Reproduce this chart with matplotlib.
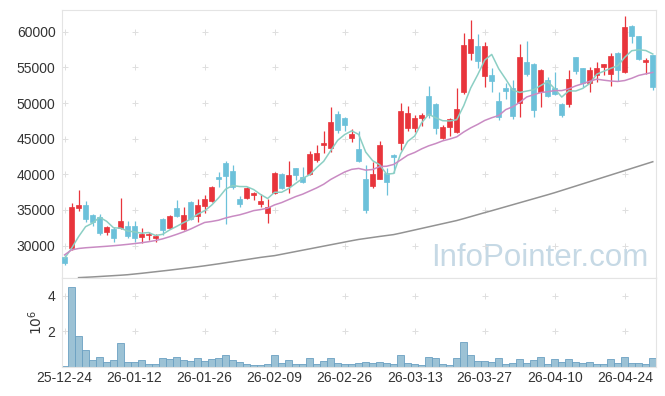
import matplotlib
matplotlib.use("Agg")
import matplotlib.pyplot as plt
import numpy as np

# daily candles, 2025-12-24 .. 2026-04-28 (index based x axis)
opens = [28360, 29620, 35330, 35700, 34300, 33970, 31920, 32380, 32520, 32760,
         32760, 31270, 31500, 31120, 33740, 32480, 35230, 32380, 36120, 34200,
         35600, 36260, 39630, 41590, 40470, 36540, 36730, 37100, 35840, 34530,
         37330, 40050, 38410, 40840, 39670, 40050, 42010, 44110, 43740, 48460,
         47940, 45140, 43550, 39350, 38360, 39350, 40140, 42710, 44440, 46540,
         46540, 47940, 50980, 49860, 45140, 46680, 45980, 51590, 56960, 57990,
         53780, 53930, 50280, 52060, 52060, 50050, 55750, 55470, 51590, 53220,
         52060, 49860, 49810, 56400, 54860, 52850, 53920, 55100, 54070, 57060,
         54400, 60790, 59390, 55750, 56730]
highs = [28690, 35930, 37800, 36260, 34390, 34390, 32760, 32660, 36680, 33410,
         33500, 32520, 31960, 31590, 33930, 34300, 36400, 35470, 36260, 36540,
         37100, 38410, 40280, 41870, 41310, 37010, 38270, 37570, 37200, 36500,
         40370, 40230, 41920, 40930, 41070, 43320, 44070, 46070, 49390, 48880,
         48080, 46310, 46070, 41310, 41680, 44670, 40930, 42800, 50050, 49580,
         48320, 48650, 52380, 49950, 46900, 47940, 52060, 59770, 61640, 59630,
         58600, 54860, 51590, 52850, 53220, 58220, 58650, 55560, 54720, 53690,
         54390, 49950, 54630, 56400, 54860, 55090, 55750, 55420, 56960, 57200,
         62200, 60930, 59390, 56260, 56730]
lows = [27290, 29400, 34900, 33270, 32800, 31540, 31540, 30470, 32380, 31080,
        30470, 30330, 30790, 30470, 31500, 32290, 33970, 32200, 33600, 33360,
        34530, 36070, 38180, 33040, 37900, 35470, 36500, 36400, 35470, 33130,
        37240, 37900, 37330, 39200, 38830, 39900, 41780, 43040, 43180, 45750,
        46070, 44580, 41780, 34620, 38130, 39350, 37100, 40140, 43410, 46070,
        45980, 46780, 47940, 45610, 44900, 45370, 45750, 51260, 56030, 54860,
        52200, 51590, 47620, 50610, 47710, 48080, 53780, 48080, 49490, 50890,
        51120, 48080, 49490, 54070, 52290, 51590, 52990, 53920, 52380, 53130,
        54160, 58360, 56030, 54020, 51820]
closes = [27620, 35370, 35700, 33740, 33360, 31730, 32570, 31120, 33460, 31360,
          31120, 31640, 31600, 31400, 32200, 34160, 34160, 34250, 33790, 35700,
          36500, 38180, 39390, 39820, 38270, 35790, 38130, 37330, 36310, 35470,
          40230, 38130, 39910, 39910, 38970, 42850, 43040, 44390, 47340, 46210,
          46920, 45650, 41870, 35000, 40090, 44110, 38970, 42480, 48880, 48650,
          47940, 48320, 48320, 46450, 46590, 47760, 49160, 58130, 58970, 55890,
          57990, 53130, 48080, 51680, 48180, 56400, 54070, 49020, 54630, 50980,
          51260, 48320, 53360, 54530, 52850, 54630, 54860, 55420, 56590, 54630,
          60610, 59440, 56120, 56030, 52200]

# volume in millions
volumes = [0.06, 4.50, 1.72, 0.94, 0.39, 0.54, 0.28, 0.39, 1.33, 0.28,
           0.28, 0.39, 0.17, 0.17, 0.48, 0.44, 0.59, 0.39, 0.33, 0.48,
           0.33, 0.44, 0.48, 0.65, 0.39, 0.28, 0.17, 0.11, 0.11, 0.17,
           0.65, 0.22, 0.39, 0.17, 0.17, 0.48, 0.17, 0.33, 0.48, 0.20,
           0.15, 0.15, 0.20, 0.28, 0.22, 0.28, 0.22, 0.15, 0.65, 0.20,
           0.15, 0.09, 0.54, 0.48, 0.15, 0.09, 0.48, 1.43, 0.65, 0.33,
           0.33, 0.28, 0.48, 0.15, 0.20, 0.43, 0.20, 0.37, 0.59, 0.15,
           0.43, 0.28, 0.43, 0.28, 0.20, 0.28, 0.15, 0.15, 0.43, 0.20,
           0.59, 0.20, 0.20, 0.15, 0.48]

# moving averages as drawn on the chart
ma5 = [28220, 29630, 31260, 32660, 33160, 33980, 33420, 32500, 32450, 32050,
       31930, 31740, 31840, 31420, 31590, 32200, 32700, 33230, 33710, 34410,
       34880, 35680, 36710, 37920, 38430, 38290, 38280, 37870, 37170, 36610,
       37490, 37490, 38010, 38730, 39430, 39950, 40940, 41830, 43320, 44770,
       45580, 46100, 45600, 43130, 41910, 41340, 40010, 40130, 42910, 44620,
       45380, 47250, 48420, 47940, 47520, 47490, 47660, 49620, 52120, 53980,
       56030, 56820, 54810, 53350, 51810, 51490, 51680, 51870, 52460, 53020,
       51990, 50840, 51710, 51690, 52060, 52740, 54050, 54460, 54870, 55230,
       56420, 57340, 57480, 57370, 56880]
ma20 = [28700, 29400, 29600, 29700, 29770, 29840, 29910, 29990, 30080, 30180,
        30290, 30410, 30550, 30720, 30950, 31250, 31580, 31930, 32330, 32800,
        33250, 33390, 33570, 33880, 34120, 34320, 34600, 34910, 35060, 35260,
        35720, 36040, 36460, 36880, 37220, 37660, 38100, 38610, 39280, 39810,
        40330, 40700, 40830, 40590, 40680, 41090, 41140, 41390, 42020, 42680,
        43070, 43580, 44000, 44320, 44700, 44950, 45260, 45940, 46520, 47010,
        47560, 47940, 48250, 49080, 49480, 50100, 50850, 51180, 51470, 51590,
        51750, 51750, 52000, 52410, 52720, 53060, 53350, 53210, 53090, 53030,
        53160, 53480, 53880, 54100, 54300]
ma60 = [np.nan, np.nan, 25510, 25560, 25610, 25670, 25730, 25790, 25850, 25920,
        26020, 26120, 26230, 26340, 26450, 26560, 26680, 26800, 26920, 27040,
        27170, 27310, 27450, 27600, 27750, 27900, 28050, 28200, 28350, 28480,
        28600, 28790, 28980, 29170, 29360, 29550, 29740, 29930, 30120, 30310,
        30500, 30690, 30870, 31010, 31150, 31290, 31420, 31550, 31760, 31980,
        32200, 32420, 32640, 32860, 33080, 33300, 33520, 33790, 34070, 34350,
        34630, 34900, 35180, 35460, 35740, 36020, 36300, 36580, 36860, 37140,
        37430, 37740, 38050, 38360, 38670, 38980, 39290, 39600, 39910, 40220,
        40530, 40840, 41150, 41460, 41770]

tick_labels = ['25-12-24', '26-01-12', '26-01-26', '26-02-09', '26-02-26',
               '26-03-13', '26-03-27', '26-04-10', '26-04-24']

plt.rcParams['font.family'] = ['Liberation Sans', 'DejaVu Sans']

o = np.array(opens)
c = np.array(closes)
x = np.arange(len(opens))
up = c >= o
colors = np.where(up, '#e8353c', '#6cc1da')

fig = plt.figure(figsize=(6.65, 3.96), dpi=100)
ax = fig.add_axes([0.0929, 0.2987, 0.894, 0.676])
axv = fig.add_axes([0.0929, 0.0732, 0.894, 0.2245], sharex=ax)

xt = np.arange(0, 81, 10)
yt = np.arange(30000, 60001, 5000)
vt = [2, 4]

# plus-shaped grid marks
for gx in xt:
    ax.plot([gx] * len(yt), yt, ls='none', marker='+', ms=5, mew=0.7,
            color='#dfdfdf', zorder=1)
    axv.plot([gx] * len(vt), vt, ls='none', marker='+', ms=5, mew=0.7,
             color='#dfdfdf', zorder=1)

# candles
ax.vlines(x, lows, highs, colors=colors, linewidth=0.9, zorder=2)
ax.bar(x, np.abs(c - o), bottom=np.minimum(o, c), width=0.68,
       color=colors, edgecolor=colors, linewidth=0.5, zorder=3)

ax.plot(x, ma5, color='#8ccfc4', linewidth=1.1, zorder=4)
ax.plot(x, ma20, color='#c98bc3', linewidth=1.1, zorder=4)
ax.plot(x, ma60, color='#939393', linewidth=1.1, zorder=4)

ax.text(0.986, 0.044, 'InfoPointer.com', transform=ax.transAxes,
        ha='right', va='baseline', fontsize=22.5, color='#c6d9e5', zorder=0)

ax.set_xlim(-0.4, 84.5)
ax.set_ylim(25500, 63050)
ax.set_yticks(yt)
ax.set_yticklabels([str(v) for v in yt])
ax.tick_params(axis='x', labelbottom=False, length=0)
ax.tick_params(axis='y', length=0, pad=4.5, labelsize=10, labelcolor='#333333')

# volume
axv.bar(x, volumes, width=1.0, color='#9cc2d5', edgecolor='#6aa0c2',
        linewidth=0.6, zorder=2)
axv.set_ylim(0, 5.0)
axv.set_yticks(vt)
axv.set_yticklabels(['2', '4'])
axv.set_ylabel('$10^6$', fontsize=10, color='#333333', labelpad=2)
axv.set_xticks(xt)
axv.set_xticklabels(tick_labels)
axv.tick_params(axis='both', length=0, labelsize=10, labelcolor='#333333')
axv.tick_params(axis='y', pad=4.5)
axv.tick_params(axis='x', pad=3)

for a in (ax, axv):
    a.set_facecolor('white')
    for s in a.spines.values():
        s.set_color('#e4e4e4')
        s.set_linewidth(0.8)

fig.savefig('out.png', dpi=100)
